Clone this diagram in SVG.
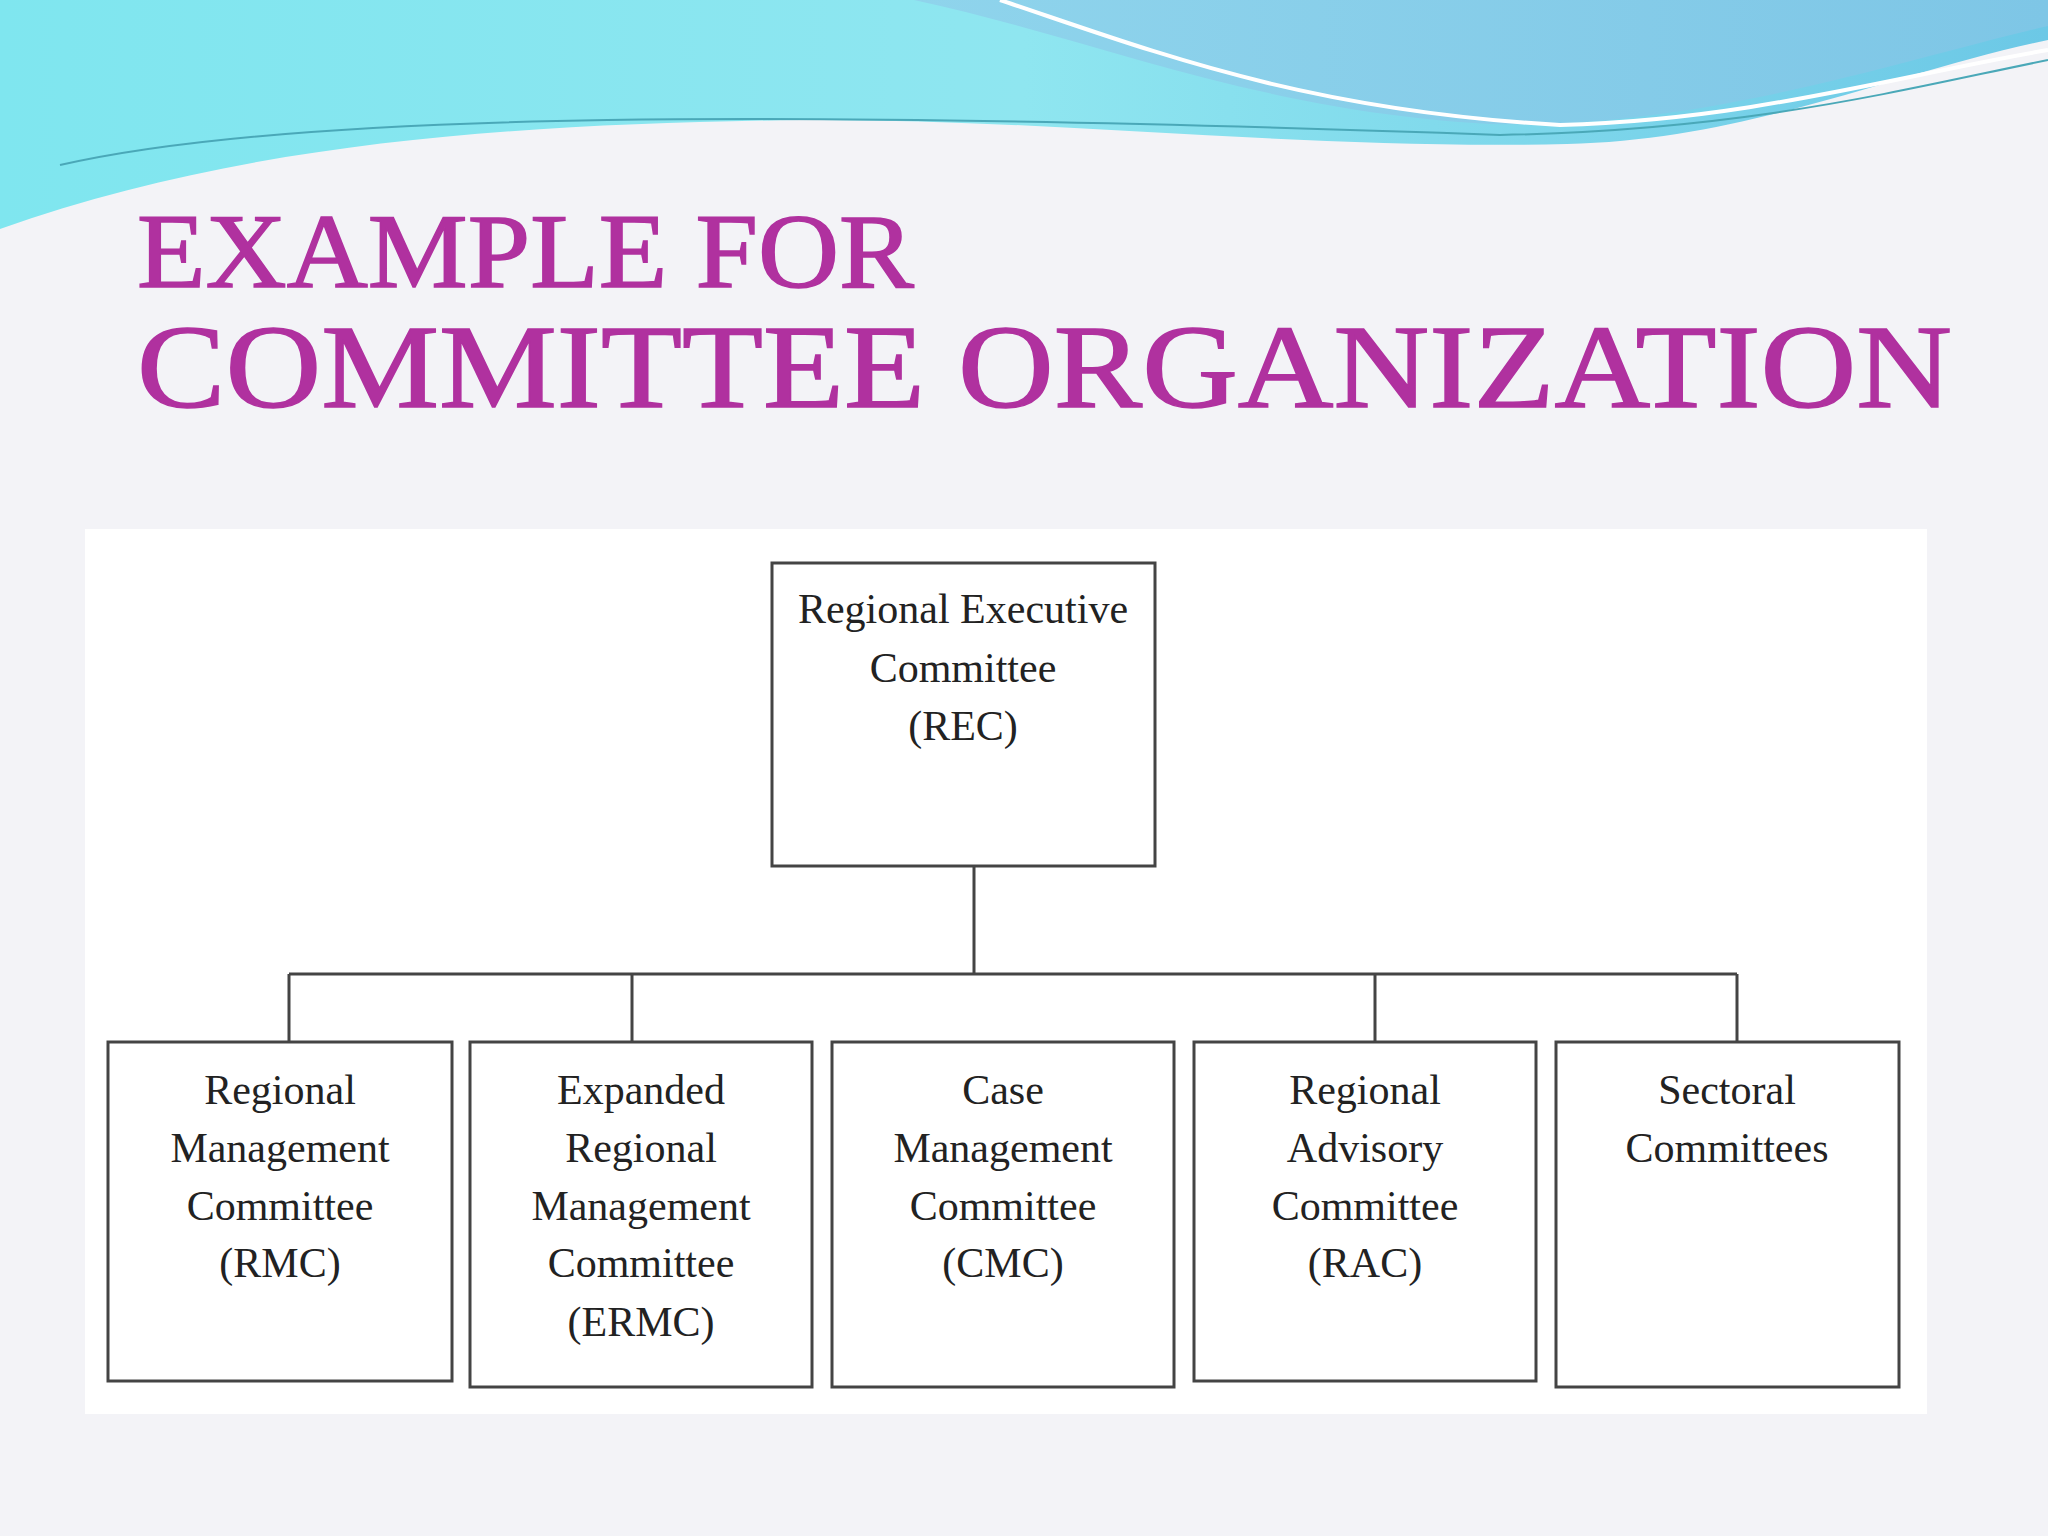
<svg xmlns="http://www.w3.org/2000/svg" width="2048" height="1536" viewBox="0 0 2048 1536">
<defs>
<linearGradient id="g1" x1="0" y1="0" x2="1" y2="0"><stop offset="0" stop-color="#7fe6ef"/><stop offset="0.5" stop-color="#8fe6f0"/><stop offset="1" stop-color="#6cc8e6"/></linearGradient>
<linearGradient id="g2" x1="0" y1="0" x2="1" y2="0"><stop offset="0" stop-color="#8fd4ec"/><stop offset="1" stop-color="#7ec6e6"/></linearGradient>
</defs>
<style>
.b{fill:#fff;stroke:#444;stroke-width:3}
.t{font-family:"Liberation Serif",serif;font-size:42px;fill:#222;text-anchor:middle}
.h{font-family:"Liberation Serif",serif;fill:#b0319f;font-weight:normal;stroke:#b0319f;stroke-width:1.5}
.c{stroke:#444;stroke-width:3;fill:none}
</style>
<rect width="2048" height="1536" fill="#f3f3f7"/>
<path d="M0 0H2048V40C1900 70 1750 140 1567 144C1300 150 1045 118 800 120C522 124 250 140 0 229Z" fill="url(#g1)"/>
<path d="M914 0C1100 40 1250 110 1489 124C1700 130 1900 60 2048 26V0Z" fill="url(#g2)"/>
<path d="M1000 0C1150 50 1300 110 1560 125C1750 120 1900 75 2048 50" fill="none" stroke="#fff" stroke-width="4"/>
<path d="M60 165C300 110 800 110 1500 135C1750 130 1900 90 2048 60" fill="none" stroke="#4aa8b8" stroke-width="2"/>
<text class="h" x="137" y="287" font-size="106" textLength="777" lengthAdjust="spacingAndGlyphs">EXAMPLE FOR</text>
<text class="h" x="137" y="407" font-size="118" textLength="1815" lengthAdjust="spacingAndGlyphs">COMMITTEE ORGANIZATION</text>
<rect x="85" y="529" width="1842" height="885" fill="#fff"/>
<g id="connectors">
<path class="c" d="M974 866V974M289 974H1737M289 974V1042M632 974V1042M1375 974V1042M1737 974V1042"/>
</g>
<g id="rec"><rect class="b" x="772" y="563" width="383" height="303"/>
<text class="t" x="963" y="623">Regional Executive</text><text class="t" x="963" y="682">Committee</text><text class="t" x="963" y="740">(REC)</text></g>
<g id="rmc"><rect class="b" x="108" y="1042" width="344" height="339"/>
<text class="t" x="280" y="1104">Regional</text><text class="t" x="280" y="1162">Management</text><text class="t" x="280" y="1220">Committee</text><text class="t" x="280" y="1277">(RMC)</text></g>
<g id="ermc"><rect class="b" x="470" y="1042" width="342" height="345"/>
<text class="t" x="641" y="1104">Expanded</text><text class="t" x="641" y="1162">Regional</text><text class="t" x="641" y="1220">Management</text><text class="t" x="641" y="1277">Committee</text><text class="t" x="641" y="1336">(ERMC)</text></g>
<g id="cmc"><rect class="b" x="832" y="1042" width="342" height="345"/>
<text class="t" x="1003" y="1104">Case</text><text class="t" x="1003" y="1162">Management</text><text class="t" x="1003" y="1220">Committee</text><text class="t" x="1003" y="1277">(CMC)</text></g>
<g id="rac"><rect class="b" x="1194" y="1042" width="342" height="339"/>
<text class="t" x="1365" y="1104">Regional</text><text class="t" x="1365" y="1162">Advisory</text><text class="t" x="1365" y="1220">Committee</text><text class="t" x="1365" y="1277">(RAC)</text></g>
<g id="sec"><rect class="b" x="1556" y="1042" width="343" height="345"/>
<text class="t" x="1727" y="1104">Sectoral</text><text class="t" x="1727" y="1162">Committees</text></g>
</svg>
